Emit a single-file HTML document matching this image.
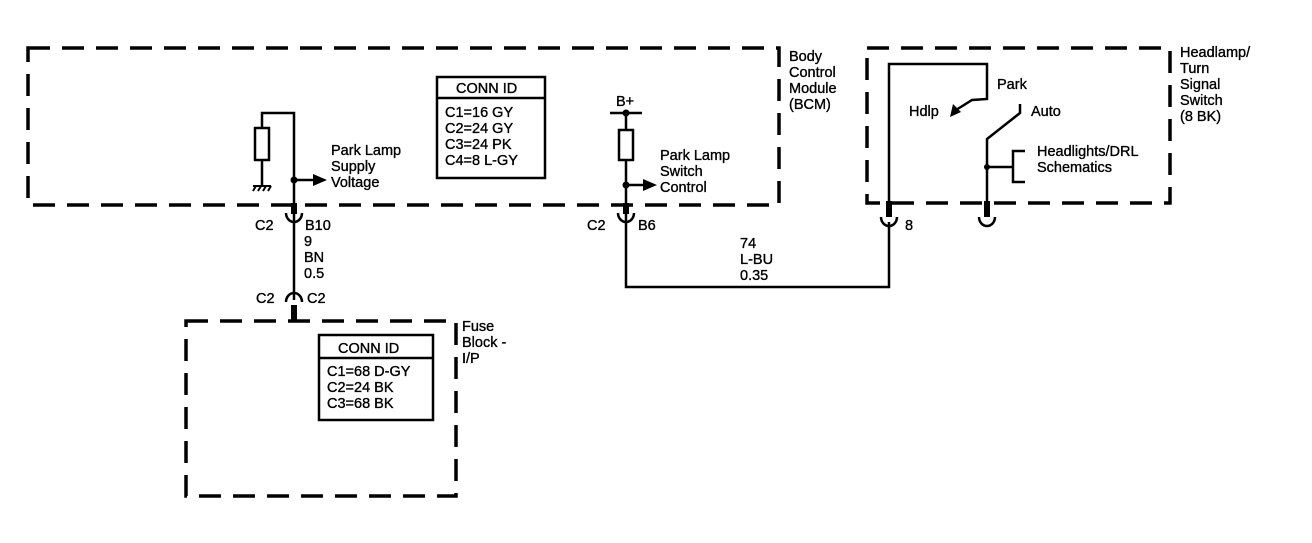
<!DOCTYPE html>
<html><head><style>
html,body{margin:0;padding:0;background:#fff;}
svg text{font-family:"Liberation Sans",sans-serif;font-size:14.5px;fill:#000;stroke:#000;stroke-width:0.35;}
</style></head><body>
<svg width="1312" height="538" viewBox="0 0 1312 538" xmlns="http://www.w3.org/2000/svg">
<g fill="none" stroke="#000" stroke-width="3.5" stroke-dasharray="22,12">
<rect x="28" y="48" width="751" height="157"/>
<rect x="867" y="48" width="303" height="155"/>
<rect x="186" y="321" width="270" height="175"/>
</g>
<g fill="none" stroke="#000" stroke-width="2.5">
<polyline points="262,185 262,113 294,113 294,300"/>
<rect x="255" y="128" width="14" height="32" fill="#fff"/>
<line x1="294" y1="180" x2="315" y2="180"/>
<path d="M286,213 A8,9 0 0 0 302,213"/>
<path d="M286,302 A8,9 0 0 1 302,302"/>
<line x1="610" y1="113" x2="642" y2="113"/>
<polyline points="626,113 626,287 889,287 889,222"/>
<rect x="619" y="130" width="14" height="30" fill="#fff"/>
<line x1="626" y1="185" x2="645" y2="185"/>
<path d="M618,213 A8,9 0 0 0 634,213"/>
<polyline points="889,210 889,64 987,64 987,99 972,100 956,110"/>
<polyline points="1020,104 1020,113 987,139 987,205"/>
<line x1="987" y1="167" x2="1013" y2="167"/>
<polyline points="1025,151 1013,151 1013,182 1025,182"/>
<path d="M881,217 A8,9 0 0 0 897,217"/>
<path d="M979,217 A8,9 0 0 0 995,217"/>
<rect x="437" y="77" width="108" height="101"/>
<line x1="437" y1="98" x2="545" y2="98"/>
<rect x="319" y="335" width="114" height="85"/>
<line x1="319" y1="358" x2="433" y2="358"/>
</g>
<g stroke="#000" stroke-width="6">
<line x1="294" y1="203" x2="294" y2="214"/>
<line x1="626" y1="203" x2="626" y2="214"/>
<line x1="294" y1="305" x2="294" y2="321"/>
<line x1="889" y1="201" x2="889" y2="217"/>
<line x1="987" y1="201" x2="987" y2="217"/>
</g>
<g stroke="#000" stroke-width="2">
<line x1="253" y1="186" x2="271" y2="186"/>
<line x1="256" y1="186" x2="253" y2="191"/><line x1="261" y1="186" x2="258" y2="191"/><line x1="266" y1="186" x2="263" y2="191"/><line x1="271" y1="186" x2="268" y2="191"/>
</g>
<g fill="#000">
<circle cx="294" cy="180" r="3.5"/><circle cx="626" cy="113" r="3.5"/><circle cx="626" cy="185" r="3.5"/><circle cx="987" cy="167" r="3"/>
<polygon points="313,174 327,180 313,186"/>
<polygon points="643,179 657,185 643,191"/>
<polygon points="953,104 961,112 950,117"/>
</g>
<text x="331" y="155">Park Lamp</text><text x="331" y="171">Supply</text><text x="331" y="187">Voltage</text>
<text x="456" y="93">CONN ID</text>
<text x="445" y="117">C1=16 GY</text><text x="445" y="133">C2=24 GY</text><text x="445" y="149">C3=24 PK</text><text x="445" y="165">C4=8 L-GY</text>
<text x="616" y="106">B+</text>
<text x="660" y="160">Park Lamp</text><text x="660" y="176">Switch</text><text x="660" y="192">Control</text>
<text x="789" y="61">Body</text><text x="789" y="77">Control</text><text x="789" y="93">Module</text><text x="789" y="109">(BCM)</text>
<text x="255" y="230">C2</text><text x="305" y="230">B10</text>
<text x="304" y="246">9</text><text x="304" y="262">BN</text><text x="304" y="278">0.5</text>
<text x="256" y="303">C2</text><text x="307" y="303">C2</text>
<text x="587" y="230">C2</text><text x="638" y="230">B6</text>
<text x="740" y="248">74</text><text x="740" y="264">L-BU</text><text x="740" y="280">0.35</text>
<text x="905" y="230">8</text>
<text x="997" y="89">Park</text><text x="909" y="116">Hdlp</text><text x="1031" y="116">Auto</text>
<text x="1037" y="156">Headlights/DRL</text><text x="1037" y="172">Schematics</text>
<text x="1180" y="57">Headlamp/</text><text x="1180" y="73">Turn</text><text x="1180" y="89">Signal</text><text x="1180" y="105">Switch</text><text x="1180" y="121">(8 BK)</text>
<text x="462" y="331">Fuse</text><text x="462" y="347">Block -</text><text x="462" y="363">I/P</text>
<text x="338" y="353">CONN ID</text>
<text x="327" y="376">C1=68 D-GY</text><text x="327" y="392">C2=24 BK</text><text x="327" y="408">C3=68 BK</text>
</svg>
</body></html>
